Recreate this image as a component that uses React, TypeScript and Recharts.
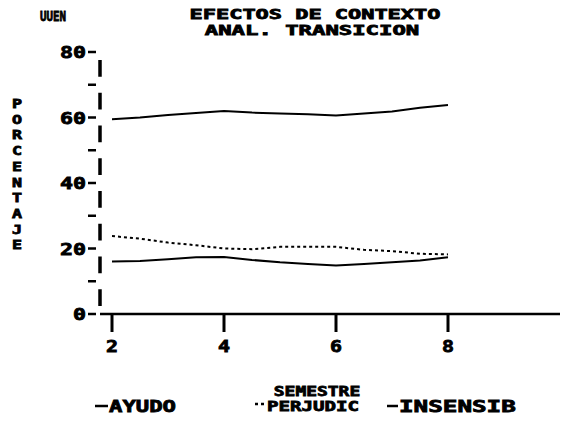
import React from "react";
import { LineChart, Line, XAxis, YAxis } from "recharts";

const semestre = [2, 2.5, 3, 3.5, 4, 4.5, 5, 5.5, 6, 6.5, 7, 7.5, 8];
const ayudo = [16, 16.2, 16.7, 17.3, 17.4, 16.5, 15.8, 15.3, 14.8, 15.3, 15.8, 16.3, 17.3];
const perjudic = [23.8, 23, 21.8, 21, 20, 19.8, 20.5, 20.5, 20.5, 19.6, 19.2, 18.4, 18.2];
const insensib = [59.5, 60, 60.8, 61.4, 62, 61.5, 61.2, 61, 60.6, 61.2, 61.8, 63, 63.8];

const xTicks = [2, 4, 6, 8];
const yTicks = [0, 10, 20, 30, 40, 50, 60, 70, 80];
const yLabelTicks = [0, 20, 40, 60, 80];

const title1 = "EFECTOS DE CONTEXTO";
const title2 = "ANAL. TRANSICION";
const corner = "UUEN";
const yTitle = "PORCENTAJE";
const xTitle = "SEMESTRE";

const series = [
  { key: "ayudo", name: "AYUDO", dash: undefined as string | undefined },
  { key: "perjudic", name: "PERJUDIC", dash: "3 3" },
  { key: "insensib", name: "INSENSIB", dash: undefined as string | undefined },
];

const data = semestre.map((s, i) => ({
  semestre: s,
  ayudo: ayudo[i],
  perjudic: perjudic[i],
  insensib: insensib[i],
}));

const FONT = "'DejaVu Sans Mono', monospace";

function Txt({
  x,
  y,
  text,
  cw = 13,
  anchor = "start",
  size = 16,
}: {
  x: number;
  y: number;
  text: string;
  cw?: number;
  anchor?: "start" | "middle" | "end";
  size?: number;
}) {
  return (
    <text
      x={x}
      y={y}
      textAnchor={anchor}
      fontFamily={FONT}
      fontWeight="bold"
      fontSize={size}
      fill="#000"
      stroke="#000"
      strokeWidth={0.8}
      textLength={text.length * cw}
      lengthAdjust="spacingAndGlyphs"
    >
      {text}
    </text>
  );
}

function YTick(props: any) {
  const { x, y, payload } = props;
  const v = payload.value as number;
  const labelled = yLabelTicks.includes(v);
  return (
    <g>
      <line x1={x - 12} x2={x - 4} y1={y} y2={y} stroke="#000" strokeWidth={2.5} />
      {labelled && <Txt x={x - 14} y={y + 6} text={String(v)} anchor="end" cw={13} />}
    </g>
  );
}

function XTick(props: any) {
  const { x, y, payload } = props;
  return <Txt x={x} y={y + 16} text={String(payload.value)} anchor="middle" cw={12} />;
}

export default function App() {
  const legendPos = [
    { x: 95, w: 13, cw: 13.4, y: 412, yl: 412 },
    { x: 255, w: 11, cw: 11.5, y: 411, yl: 410 },
    { x: 387, w: 11, cw: 14.6, y: 412, yl: 412 },
  ];
  return (
    <div style={{ position: "absolute", left: 0, top: 0, width: 562, height: 423, background: "#fff" }}>
      <LineChart
        width={562}
        height={423}
        data={data}
        margin={{ top: 52, right: 2, bottom: 64, left: 0 }}
      >
        <XAxis
          dataKey="semestre"
          type="number"
          domain={[2, 10]}
          ticks={xTicks}
          padding={{ left: 12, right: 0 }}
          height={45}
          axisLine={{ stroke: "#000", strokeWidth: 2.5 }}
          tickLine={{ stroke: "#000", strokeWidth: 3 }}
          tickSize={18}
          tickMargin={4}
          tick={<XTick />}
          allowDataOverflow
        />
        <YAxis
          type="number"
          domain={[0, 80]}
          ticks={yTicks}
          width={100}
          axisLine={{ stroke: "#000", strokeWidth: 3.5, strokeDasharray: "0 8 16.75 8" }}
          tickLine={false}
          tickSize={0}
          tickMargin={0}
          tick={<YTick />}
          interval={0}
        />
        {series.map((s) => (
          <Line
            key={s.key}
            dataKey={s.key}
            name={s.name}
            type="linear"
            stroke="#000"
            strokeWidth={2}
            strokeDasharray={s.dash}
            dot={false}
            activeDot={false}
            isAnimationActive={false}
          />
        ))}
      </LineChart>
      <svg
        width={562}
        height={423}
        style={{ position: "absolute", left: 0, top: 0, pointerEvents: "none" }}
      >
        <Txt x={40} y={21} text={corner} cw={6.5} size={14} />
        <Txt x={315} y={19} text={title1} anchor="middle" cw={13.2} size={14} />
        <Txt x={312} y={35} text={title2} anchor="middle" cw={13.4} size={14} />
        {yTitle.split("").map((ch, i) => (
          <Txt key={i} x={17} y={108 + i * 15.7} text={ch} anchor="middle" cw={10} size={13} />
        ))}
        <Txt x={317} y={396} text={xTitle} anchor="middle" cw={10.8} size={14} />
        {series.map((s, i) => {
          const p = legendPos[i];
          return (
            <g key={s.key}>
              <line
                x1={p.x}
                x2={p.x + p.w}
                y1={p.yl - 6}
                y2={p.yl - 6}
                stroke="#000"
                strokeWidth={2.5}
                strokeDasharray={s.dash}
              />
              <Txt x={p.x + p.w + 1} y={p.y} text={s.name} cw={p.cw} size={i === 1 ? 14 : 16} />
            </g>
          );
        })}
      </svg>
    </div>
  );
}
